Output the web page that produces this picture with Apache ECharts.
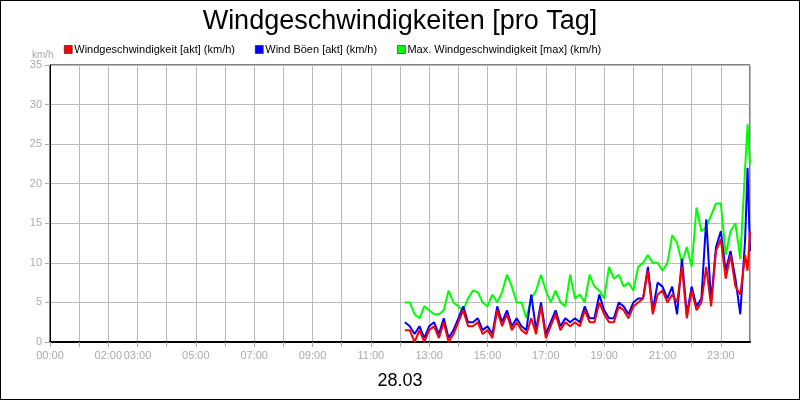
<!DOCTYPE html>
<html><head><meta charset="utf-8">
<script src="https://cdn.jsdelivr.net/npm/echarts@6/dist/echarts.min.js"></script>
<style>html,body{margin:0;padding:0;background:#fff}#c{width:798px;height:398px;border:1px solid #000}</style>
</head><body><div id="c"></div>
<script>
const seriesNames = ['Windgeschwindigkeit [akt] (km/h)', 'Wind Böen [akt] (km/h)', 'Max. Windgeschwindigkeit [max] (km/h)'];
const hourLabels = [0, 2, 3, 5, 7, 9, 11, 13, 15, 17, 19, 21, 23];
// times in hours, 10-minute steps from 12:10 to 23:50, plus 23:55 and 24:00
const times = [];
for (let m = 730; m <= 1430; m += 10) times.push(m / 60);
times.push(1435 / 60, 24);
const speed = [1.5,1.5,0,1.5,0,1.5, 2,0.5,2.5,0,1,2.5, 4,2,2,2.5,1,1.5, 0.5,4,2,3.5,1.5,2.5, 1.5,1,3,1,4.5,0.5, 2,3.5,1.5,2.5,2,2.5, 2,4,2.5,2.5,5,3.5, 2.5,2.5,4.5,4,3,4.5, 5,5.5,9,3.5,6,6.5, 5,6,5,9.5,3,6.5, 4,5,9.5,4.5,11.5,13, 8,11,7,6,11,9,14];
const gust = [2.5,2,1,2,0.5,2, 2.5,1,3,0.5,1.5,3, 4.5,2.5,2.5,3,1.5,2, 1,4.5,2.5,4,2,3, 2,1.5,6,1.5,5,1, 2.5,4,2,3,2.5,3, 2.5,4.5,3,3,6,4, 3,3,5,4.5,3.5,5, 5.5,5.5,9.5,4,7.5,7, 5.5,7,3.5,10.5,3.5,7, 4.5,5.5,15.5,5,12,14, 9,11.5,8,3.5,13,22,11.5];
const gustMax = [5,5,3.5,3,4.5,4, 3.5,3.5,4,6.5,5,4.5, 4,5.5,6.5,6.3,5,4.5, 6,5,6.3,8.5,7,5, 5,3,5.5,6.5,8.5,6.5, 5,6.5,5,4.5,8.5,5.5, 6,5,8.5,7,6.5,5.5, 9.5,8,8.5,7,7.5,6.5, 9.5,10,11,10,10,9, 10,13.5,12.5,10,12,9.5, 17,14,14.5,16,17.5,17.5, 11,14,15,10.5,22,27.5,22.5];
const colors = ['#ff0000', '#0000ff', '#00ff00'];
const pairs = a => a.map((v, i) => [times[i], v]);
const chart = echarts.init(document.getElementById('c'));
chart.setOption({
  animation: false,
  title: [{text: 'Windgeschwindigkeiten [pro Tag]', left: 'center', top: 2, textStyle: {fontFamily: 'Liberation Sans', fontSize: 27, fontWeight: 'normal', color: '#000'}},
          {text: '28.03', left: 'center', top: 366, textStyle: {fontFamily: 'Liberation Sans', fontSize: 18, fontWeight: 'normal', color: '#000'}},
          {text: 'km/h', left: 26, top: 44, textStyle: {fontFamily: 'Liberation Sans', fontSize: 10, fontWeight: 'normal', color: '#aaa'}}],
  legend: {left: 58, top: 38, itemGap: 20, itemWidth: 8, itemHeight: 8, icon: 'rect',
    textStyle: {fontFamily: 'Liberation Sans', fontSize: 11, color: '#000', padding: [0, 0, 0, -3]},
    data: seriesNames.map((n, i) => ({name: n, itemStyle: {color: colors[i], borderColor: '#000', borderWidth: 0.5}}))},
  grid: {left: 49, right: 49, top: 64, bottom: 57, show: true, borderColor: '#000', borderWidth: 1},
  xAxis: {type: 'value', min: 0, max: 24, interval: 1,
    axisLine: {lineStyle: {color: '#000', width: 2}}, axisTick: {show: true, lineStyle: {color: '#aaa'}},
    splitLine: {show: true, lineStyle: {color: '#bbb'}},
    axisLabel: {color: '#aaa', fontFamily: 'Liberation Sans', fontSize: 11, showMaxLabel: false,
      formatter: v => hourLabels.includes(v) ? String(v).padStart(2, '0') + ':00' : ''}},
  yAxis: {type: 'value', min: 0, max: 35, interval: 5,
    axisLine: {show: true, lineStyle: {color: '#000'}}, axisTick: {show: true, lineStyle: {color: '#aaa'}},
    splitLine: {lineStyle: {color: '#bbb'}},
    axisLabel: {color: '#aaa', fontFamily: 'Liberation Sans', fontSize: 11}},
  series: [
    {name: seriesNames[2], type: 'line', data: pairs(gustMax), showSymbol: false, lineStyle: {color: colors[2], width: 2}, itemStyle: {color: colors[2]}, z: 1},
    {name: seriesNames[1], type: 'line', data: pairs(gust), showSymbol: false, lineStyle: {color: colors[1], width: 2}, itemStyle: {color: colors[1]}, z: 2},
    {name: seriesNames[0], type: 'line', data: pairs(speed), showSymbol: false, lineStyle: {color: colors[0], width: 2}, itemStyle: {color: colors[0]}, z: 3}
  ]
});
</script></body></html>
